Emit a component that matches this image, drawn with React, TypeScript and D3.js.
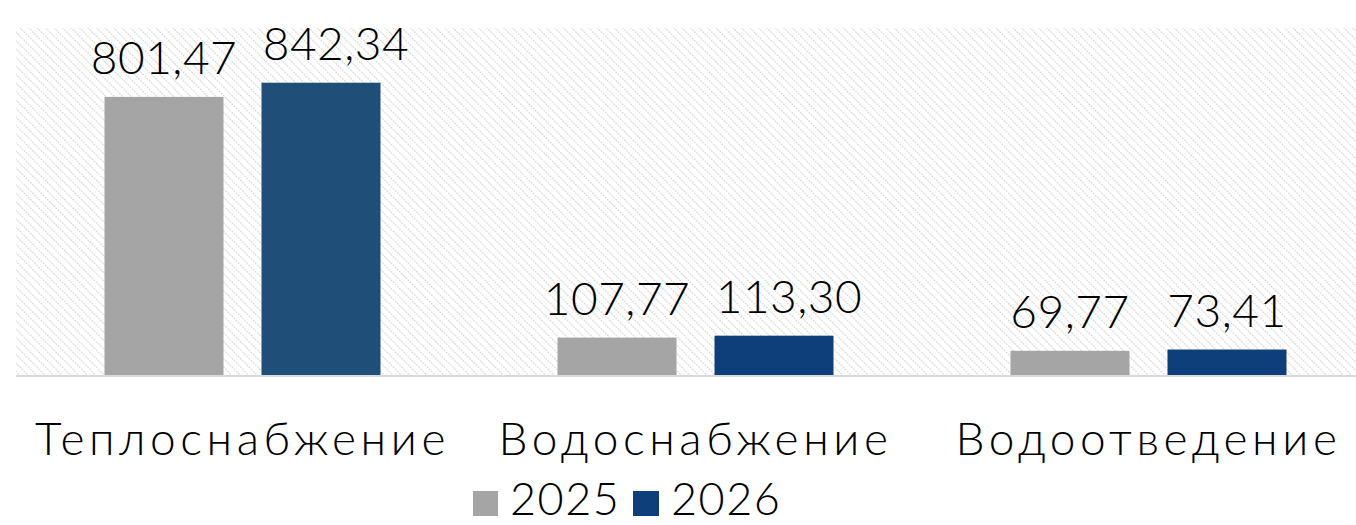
import React from "react";
import * as d3 from "d3";

const categories = ["Теплоснабжение", "Водоснабжение", "Водоотведение"];
const series = ["2025", "2026"];
const values2025 = [801.47, 107.77, 69.77];
const values2026 = [842.34, 113.3, 73.41];
const seriesColors = ["#A5A5A5", "#0E3F7A"];
// first 2026 bar has its own fill in the source chart
const pointColors2026 = ["#1F4E79", "#0E3F7A", "#0E3F7A"];

const W = 1356;
const H = 525;
const plot = { left: 16, right: 1375, top: 28, bottom: 375 };
const FONT = "Lato, 'Century Gothic', sans-serif";

const fmt = (v: number) => v.toFixed(2).replace(".", ",");

export default function App() {
  const x = d3
    .scaleBand<string>()
    .domain(categories)
    .range([plot.left, plot.right]);

  const barW = 119;
  const gap = 38;
  const x1 = d3
    .scaleBand<string>()
    .domain(series)
    .range([0, barW * 2 + gap])
    .paddingInner(gap / (barW + gap));

  const y = d3.scaleLinear().domain([0, 1000]).range([plot.bottom, plot.top]);

  const offset = (x.bandwidth() - (barW * 2 + gap)) / 2;
  const ls = 4.6;

  // rough label width, used to push the right label away like Excel does
  const charW = 24;
  const minGap = 28;

  const rows = categories.map((c, i) => {
    const bars = [
      { s: series[0], v: values2025[i], color: seriesColors[0] },
      { s: series[1], v: values2026[i], color: pointColors2026[i] },
    ].map((b) => ({
      ...b,
      cx: (x1(b.s) ?? 0) + x1.bandwidth() / 2,
      w: fmt(b.v).length * charW,
      dx: 0,
    }));
    const [a, b] = bars;
    const overlap = a.cx + a.w / 2 + minGap - (b.cx - b.w / 2);
    if (overlap > 0) b.dx = overlap;
    return { c, bars };
  });

  return (
    <svg
      width={W}
      height={H}
      style={{ position: "absolute", left: 0, top: 0, display: "block" }}
    >
      <defs>
        <pattern
          id="hatch"
          width={6}
          height={6}
          patternUnits="userSpaceOnUse"
          patternTransform="rotate(-45)"
        >
          <rect width={6} height={6} fill="#ffffff" />
          <line x1={0} y1={0} x2={0} y2={6} stroke="#d6d6d6" strokeWidth={2.2} strokeDasharray="2 1" />
        </pattern>
      </defs>
      <rect width={W} height={H} fill="#ffffff" />
      <rect
        x={plot.left}
        y={plot.top}
        width={plot.right - plot.left}
        height={plot.bottom - plot.top}
        fill="url(#hatch)"
      />
      <line
        x1={plot.left}
        x2={plot.right}
        y1={y(0) + 1}
        y2={y(0) + 1}
        stroke="#d9d9d9"
        strokeWidth={2}
      />
      {rows.map((r) => (
        <g key={r.c} transform={`translate(${(x(r.c) ?? 0) + offset},0)`}>
          {r.bars.map((b) => (
            <g key={b.s}>
              <rect
                x={x1(b.s)}
                y={y(b.v)}
                width={x1.bandwidth()}
                height={y(0) - y(b.v)}
                fill={b.color}
              />
              <text
                x={b.cx + b.dx}
                y={y(b.v) - 23}
                textAnchor="middle"
                fontFamily={FONT}
                fontWeight={300}
                fontSize={46}
                letterSpacing={0.5}
                fill="#000"
              >
                {fmt(b.v)}
              </text>
            </g>
          ))}
          <text
            x={x.bandwidth() / 2 - offset}
            y={455}
            textAnchor="middle"
            fontFamily={FONT}
            fontWeight={300}
            fontSize={46}
            letterSpacing={ls}
            fill="#000"
          >
            {r.c}
          </text>
        </g>
      ))}
      <g fontFamily={FONT} fontWeight={300} fontSize={45} letterSpacing={1.5} fill="#000">
        <rect x={473} y={491} width={25} height={25} fill={seriesColors[0]} />
        <text x={510} y={515}>{series[0]}</text>
        <rect x={633} y={491} width={26} height={25} fill={seriesColors[1]} />
        <text x={671} y={515}>{series[1]}</text>
      </g>
    </svg>
  );
}
